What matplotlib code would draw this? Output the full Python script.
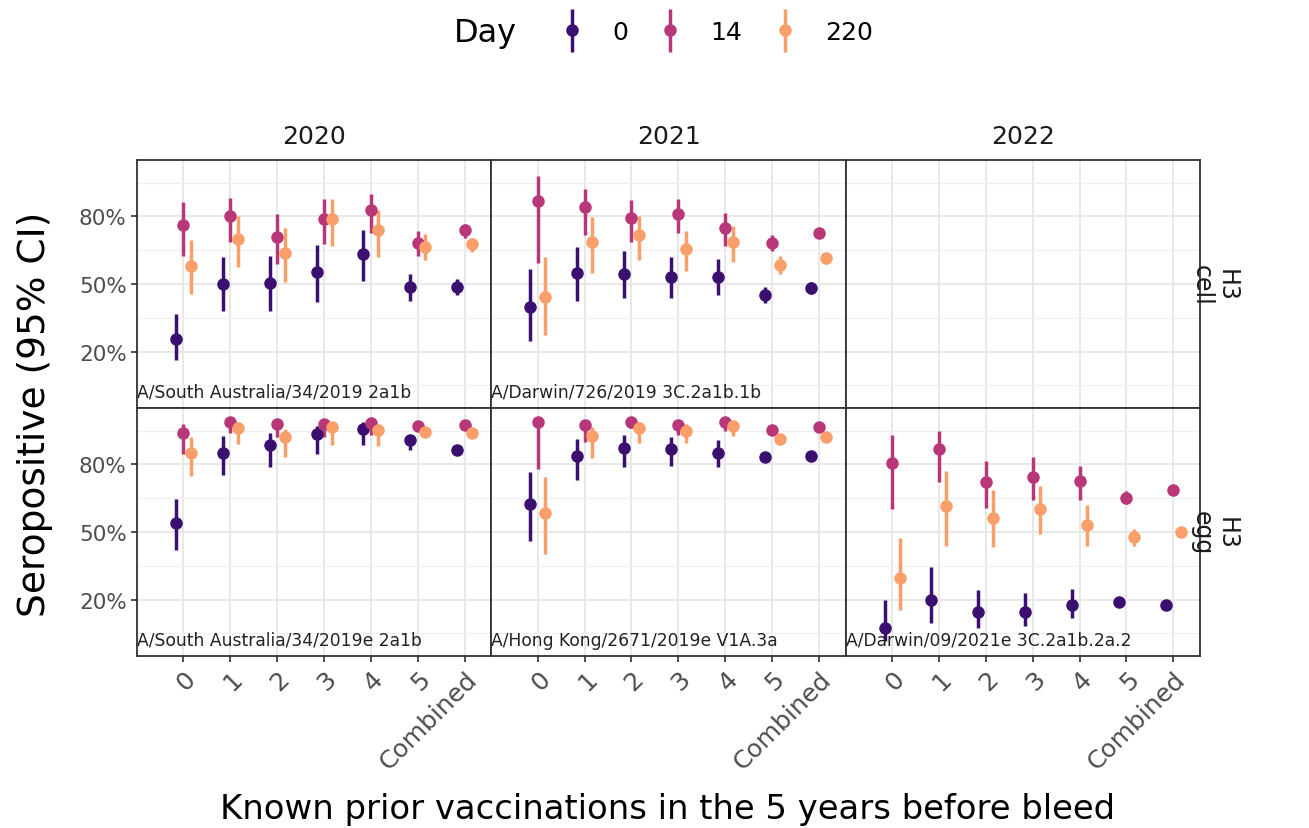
import numpy as np
import matplotlib.pyplot as plt
from matplotlib.legend_handler import HandlerErrorbar

# seropositivity by number of prior vaccinations, per year / virus
cats = ["0", "1", "2", "3", "4", "5", "Combined"]
days = ["0", "14", "220"]
day_colors = ["#3B0F70", "#B73779", "#FB9F6A"]
years = ["2020", "2021", "2022"]
virus_rows = ["H3\ncell", "H3\negg"]
strains = {
    (0, 0): "A/South Australia/34/2019 2a1b",
    (0, 1): "A/Darwin/726/2019 3C.2a1b.1b",
    (1, 0): "A/South Australia/34/2019e 2a1b",
    (1, 1): "A/Hong Kong/2671/2019e V1A.3a",
    (1, 2): "A/Darwin/09/2021e 3C.2a1b.2a.2",
}

# estimate, lower, upper (%) for each day, keyed by (row, col)
est = {
    (0, 0): [[25.4, 50.0, 50.4, 55.4, 63.5, 48.8, 48.8],
             [76.0, 80.1, 71.0, 79.0, 82.6, 68.1, 73.8],
             [57.8, 69.9, 63.7, 79.0, 73.8, 66.5, 67.6]],
    (0, 1): [[39.7, 54.9, 54.4, 53.0, 53.2, 45.3, 48.1],
             [86.8, 84.1, 79.1, 80.9, 74.7, 68.4, 72.8],
             [44.1, 68.7, 71.6, 65.4, 68.7, 58.5, 61.5]],
    (1, 0): [[53.9, 85.2, 88.4, 93.5, 95.7, 90.6, 86.2],
             [93.8, 99.0, 97.9, 97.9, 98.2, 97.2, 97.5],
             [85.1, 96.2, 92.1, 96.5, 95.4, 94.3, 93.8]],
    (1, 1): [[62.2, 83.6, 87.3, 86.7, 85.2, 83.4, 83.6],
             [99.0, 97.6, 99.0, 97.6, 98.6, 95.4, 96.7],
             [58.6, 92.5, 96.0, 95.0, 97.2, 91.4, 92.1]],
    (1, 2): [[7.6, 20.0, 14.5, 14.5, 17.8, 18.9, 17.6],
             [80.4, 86.7, 72.0, 74.3, 72.4, 65.2, 68.8],
             [29.5, 61.5, 56.1, 60.0, 53.1, 47.7, 49.9]],
}
low = {
    (0, 0): [[16.2, 37.8, 38.2, 42.2, 51.5, 42.4, 44.9],
             [62.2, 68.7, 58.8, 67.6, 72.4, 62.2, 70.6],
             [45.6, 57.4, 50.8, 66.8, 62.1, 60.8, 64.0]],
    (0, 1): [[24.6, 42.6, 43.7, 43.7, 44.9, 41.6, 45.6],
             [59.3, 71.6, 68.8, 72.5, 66.9, 64.7, 70.6],
             [27.2, 54.9, 60.8, 55.9, 59.9, 54.4, 58.8]],
    (1, 0): [[42.1, 75.1, 79.0, 84.8, 88.4, 86.2, 84.6],
             [84.4, 94.0, 92.1, 92.1, 92.8, 95.5, 96.2],
             [74.9, 89.2, 83.4, 88.4, 88.0, 92.4, 92.3]],
    (1, 1): [[45.8, 73.1, 79.0, 79.4, 79.0, 81.4, 82.3],
             [77.8, 89.9, 96.0, 93.0, 95.0, 93.5, 95.4],
             [40.4, 82.6, 89.5, 89.5, 92.5, 89.4, 90.6]],
    (1, 2): [[1.5, 9.8, 7.6, 8.4, 12.0, 16.8, 16.2],
             [60.3, 72.1, 60.8, 64.0, 64.4, 62.2, 66.8],
             [15.2, 43.8, 43.3, 48.9, 43.8, 43.9, 47.6]],
}
high = {
    (0, 0): [[36.8, 61.8, 62.5, 67.2, 74.0, 54.4, 52.2],
             [86.3, 88.2, 80.9, 87.8, 90.1, 73.5, 76.5],
             [69.6, 80.1, 74.7, 87.8, 82.8, 72.1, 70.6]],
    (0, 1): [[56.6, 66.6, 64.7, 62.1, 61.3, 48.6, 50.7],
             [98.1, 92.2, 87.2, 87.5, 81.6, 71.6, 75.0],
             [61.8, 79.7, 80.1, 73.5, 75.7, 62.2, 64.0]],
    (1, 0): [[64.8, 92.4, 93.8, 97.2, 98.6, 92.8, 87.8],
             [97.9, 100.0, 100.0, 100.0, 100.0, 98.6, 98.6],
             [92.1, 98.6, 95.7, 98.6, 97.9, 96.0, 95.2]],
    (1, 1): [[76.8, 91.4, 92.8, 92.1, 90.6, 85.3, 84.8],
             [100.0, 99.7, 100.0, 99.7, 100.0, 97.0, 97.9],
             [74.6, 96.5, 98.6, 97.9, 99.0, 93.3, 93.5]],
    (1, 2): [[20.0, 34.3, 24.1, 22.9, 24.7, 21.0, 19.0],
             [92.8, 95.0, 81.5, 83.1, 79.4, 68.2, 70.8],
             [47.2, 77.2, 68.5, 70.5, 61.8, 51.5, 52.2]],
}

dodge = [-0.16, 0.0, 0.16]
x = np.arange(len(cats))

fig, axes = plt.subplots(2, 3, figsize=(13.09, 8.29), dpi=100, sharex=True, sharey=True)
fig.subplots_adjust(left=0.1047, right=0.9167, bottom=0.2075, top=0.8058, wspace=0, hspace=0)

handles = []
for r in range(2):
    for c in range(3):
        ax = axes[r, c]
        ax.set_xlim(-0.99, 6.57)
        ax.set_ylim(-5, 105)
        ax.set_yticks([20, 50, 80])
        ax.set_yticks([5, 35, 65, 95], minor=True)
        ax.set_xticks(x)
        ax.grid(True, which="major", color="#E8E8E8", lw=1.4)
        ax.grid(True, which="minor", axis="y", color="#F0F0F0", lw=0.9)
        ax.set_axisbelow(True)
        for s in ax.spines.values():
            s.set_color("#333333")
            s.set_linewidth(1.3)
        ax.tick_params(which="major", length=4, width=1.2, color="#333333",
                       labelsize=15.5, labelcolor="#4D4D4D")
        ax.tick_params(axis="x", labelsize=18)
        ax.tick_params(which="minor", length=0)
        if c > 0:
            ax.tick_params(axis="y", length=0)
        if r == 0:
            ax.tick_params(axis="x", length=0)

        key = (r, c)
        if key not in est:
            continue
        for d in range(3):
            e = np.array(est[key][d])
            lo = np.array(low[key][d])
            hi = np.array(high[key][d])
            h = ax.errorbar(x + dodge[d], e, yerr=[e - lo, hi - e], fmt="o",
                            color=day_colors[d], ms=8, elinewidth=2.5,
                            capsize=0, label=days[d])
            if key == (0, 0):
                handles.append(h)
        ax.text(0.0, 0.065, strains[key], transform=ax.transAxes, fontsize=12.3,
                color="#222222", ha="left", va="center")

for c in range(3):
    axes[0, c].set_title(years[c], fontsize=18, color="#1A1A1A", pad=12)
for r in range(2):
    axes[r, 2].text(1.04, 0.5, virus_rows[r], transform=axes[r, 2].transAxes,
                    rotation=-90, fontsize=17, color="#1A1A1A", linespacing=1.0,
                    ha="center", va="center", multialignment="center")

axes[0, 0].yaxis.set_major_formatter(plt.FuncFormatter(lambda v, p: f"{v:.0f}%"))
axes[1, 0].set_xticklabels(cats)
for c in range(3):
    plt.setp(axes[1, c].get_xticklabels(), rotation=45, ha="right", rotation_mode="anchor")

fig.text(0.027, 0.5, "Seropositive (95% CI)", rotation=90, fontsize=27,
         ha="center", va="center")
fig.text(0.51, 0.023, "Known prior vaccinations in the 5 years before bleed",
         fontsize=24.4, ha="center", va="center")

fig.text(0.3705, 0.96, "Day", fontsize=23, ha="center", va="center")
fig.legend(handles=handles, labels=days, loc="center", bbox_to_anchor=(0.548, 0.96),
           ncol=3, frameon=False, fontsize=18, handlelength=0.8, columnspacing=1.3,
           handletextpad=1.2, handler_map={type(handles[0]): HandlerErrorbar(yerr_size=0.85)})

fig.savefig("out.png", dpi=100)
